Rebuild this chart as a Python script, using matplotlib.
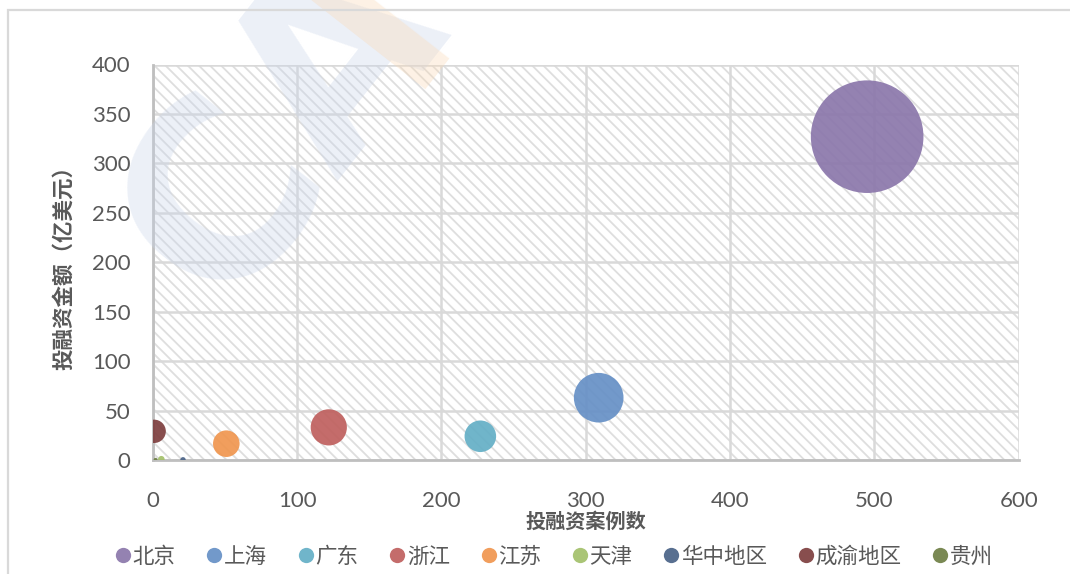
import matplotlib
matplotlib.use("Agg")
import matplotlib.pyplot as plt
from matplotlib.patches import Rectangle
from matplotlib.lines import Line2D

plt.rcParams['font.family'] = ['Noto Sans CJK SC', 'DejaVu Sans']
plt.rcParams['hatch.linewidth'] = 1.3
plt.rcParams['hatch.color'] = '#dedede'

# ---- data ----
regions = ['北京', '上海', '广东', '浙江', '江苏', '天津', '华中地区', '成渝地区', '贵州']
cases = [495, 309, 227, 122, 51, 6, 21, 1, 2]            # 投融资案例数
amounts = [327, 63, 24, 33, 16.5, 0.8, 0.2, 29, 0.2]      # 投融资金额（亿美元）
bubble_sizes = [327, 63.5, 25.7, 33.8, 18.2, 1.1, 0.75, 14.1, 0.4]
colors = ['#8b77ab', '#6690c6', '#64afc6', '#bf605e', '#f0964f',
          '#a3c06a', '#4a6387', '#7e3f3f', '#6f7f45']
x_ticks = [0, 100, 200, 300, 400, 500, 600]
y_ticks = [0, 50, 100, 150, 200, 250, 300, 350, 400]

W, H = 1070, 574
fig = plt.figure(figsize=(W / 100, H / 100), dpi=100)
fig.patch.set_facecolor('white')

# watermark
fig.text(0.265, 0.78, 'CA', fontsize=175, fontweight='bold', family='DejaVu Sans',
         color='#c9d5ea', alpha=0.35, rotation=52, ha='center', va='center', zorder=0)
fig.text(0.36, 0.96, 'I', fontsize=150, fontweight='bold', family='DejaVu Sans',
         color='#fbd9b5', alpha=0.35, rotation=52, ha='center', va='center', zorder=0)

# figure border
fig.add_artist(Rectangle((8 / W, -0.1), 1.2, 1 - 10 / H + 0.1, transform=fig.transFigure,
                         fill=False, edgecolor='#d9d9d9', linewidth=1.6, zorder=1))

ax = fig.add_axes([152.7 / W, 1 - 460 / H, 866 / W, 395.5 / H])
ax.set_facecolor('none')
ax.add_patch(Rectangle((0, 0), 1, 1, transform=ax.transAxes, facecolor='none',
                       edgecolor='#dedede', hatch='\\\\\\', linewidth=0, zorder=0))

ax.set_xlim(0, 600)
ax.set_ylim(0, 400)
ax.set_xticks(x_ticks)
ax.set_yticks(y_ticks)
ax.grid(True, color='#d9d9d9', linewidth=1.8, zorder=1)
ax.set_axisbelow(True)
for s in ['top', 'right']:
    ax.spines[s].set_visible(False)
for s in ['left', 'bottom']:
    ax.spines[s].set_color('#bfbfbf')
    ax.spines[s].set_linewidth(2)
ax.tick_params(length=0, labelsize=16, labelcolor='#595959')
for lab in ax.get_xticklabels() + ax.get_yticklabels():
    lab.set_family(['Lato', 'DejaVu Sans'])
ax.tick_params(axis='y', pad=16)
ax.tick_params(axis='x', pad=22)

scale = (2 * 56.3 * 0.72) ** 2 / 327
ax.scatter(cases, amounts, s=[b * scale for b in bubble_sizes], c=colors,
           alpha=0.92, linewidths=0, zorder=3, clip_on=True)

ax.set_xlabel('投融资案例数', fontsize=14.5, color='#595959', fontweight='bold', labelpad=0)
ax.set_ylabel('投融资金额（亿美元）', fontsize=15.5, color='#595959', fontweight='bold', labelpad=13)

handles = [Line2D([], [], marker='o', linestyle='none', markersize=11,
                  markerfacecolor=c, markeredgewidth=0, alpha=0.92) for c in colors]
fig.legend(handles, regions, loc='center', bbox_to_anchor=(553 / W, 1 - 557 / H), ncol=9,
           frameon=False, fontsize=15.5, handletextpad=0.0, columnspacing=1.35,
           handlelength=0.9, labelcolor='#595959')

fig.savefig('out.png', dpi=100)
